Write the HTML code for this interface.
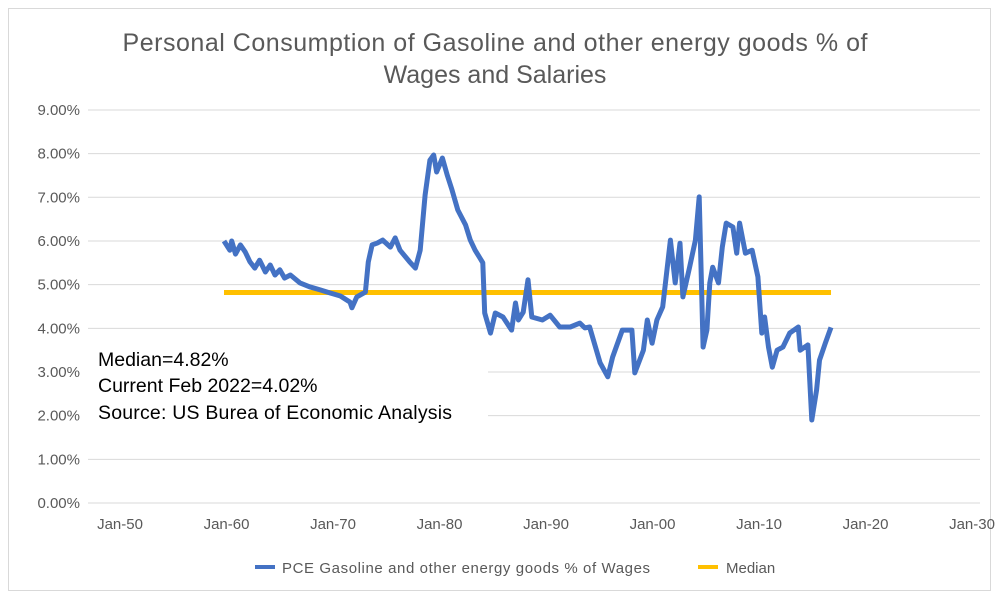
<!DOCTYPE html>
<html><head><meta charset="utf-8"><style>
body{margin:0;background:#fff;font-family:"Liberation Sans",Calibri,sans-serif}
svg text{font-family:"Liberation Sans",sans-serif}
</style></head><body>
<svg width="1000" height="602" xmlns="http://www.w3.org/2000/svg">
<rect x="8.5" y="8.5" width="982" height="582" fill="#fff" stroke="#d9d9d9"/>
<text x="495" y="51" text-anchor="middle" font-size="25" fill="#595959" textLength="745">Personal Consumption of Gasoline and other energy goods % of</text>
<text x="495" y="83" text-anchor="middle" font-size="25" fill="#595959">Wages and Salaries</text>
<g id="grid"></g><g id="ylabels"></g><g id="xlabels"></g><g id="series"></g>
<rect x="88" y="340" width="400" height="90" fill="#fff"/>
<text x="98" y="366" font-size="19.5" fill="#000">Median=4.82%</text>
<text x="98" y="392" font-size="19.5" fill="#000">Current Feb 2022=4.02%</text>
<text x="98" y="419" font-size="19.5" fill="#000" textLength="354">Source: US Burea of Economic Analysis</text>
<g>
<line x1="255" y1="567" x2="275" y2="567" stroke="#4472c4" stroke-width="4"/>
<text x="282" y="573" font-size="15" fill="#595959" textLength="368">PCE Gasoline and other energy goods % of Wages</text>
<line x1="698" y1="567" x2="718" y2="567" stroke="#ffc000" stroke-width="4"/>
<text x="726" y="573" font-size="15" fill="#595959">Median</text>
</g>
</svg>
<script>
const years=[1959.0,1959.6,1959.8,1960.2,1960.7,1961.2,1961.7,1962.2,1962.7,1963.3,1963.8,1964.3,1964.8,1965.3,1965.9,1966.9,1967.9,1969.0,1970.0,1971.1,1972.1,1972.3,1972.8,1973.7,1974.0,1974.4,1974.9,1975.5,1976.3,1976.8,1977.3,1978.3,1978.9,1979.4,1979.9,1980.4,1980.8,1981.1,1981.7,1982.2,1982.7,1983.3,1984.1,1984.6,1985.1,1985.6,1985.9,1986.1,1986.7,1987.2,1988.0,1988.9,1989.3,1989.6,1990.1,1990.6,1991.0,1992.1,1992.9,1993.9,1995.0,1996.0,1996.5,1997.0,1998.1,1998.9,1999.4,2000.4,2001.4,2001.7,2002.6,2003.0,2003.5,2004.0,2004.6,2005.4,2005.9,2006.4,2006.7,2007.4,2008.0,2008.4,2008.8,2009.2,2009.5,2009.8,2010.4,2010.8,2011.2,2011.9,2012.3,2012.6,2013.2,2013.9,2014.5,2014.9,2015.2,2015.6,2016.0,2016.5,2017.1,2017.8,2018.7,2018.9,2019.7,2020.1,2020.6,2020.9,2021.5,2022.1];
const values=[6.00,5.79,6.00,5.70,5.91,5.75,5.52,5.38,5.56,5.29,5.45,5.22,5.34,5.15,5.22,5.04,4.95,4.88,4.81,4.74,4.60,4.47,4.72,4.83,5.52,5.91,5.95,6.02,5.86,6.07,5.79,5.52,5.38,5.79,7.05,7.85,7.97,7.58,7.90,7.51,7.17,6.71,6.37,6.02,5.79,5.61,5.50,4.35,3.89,4.35,4.26,3.96,4.58,4.19,4.37,5.11,4.26,4.19,4.30,4.03,4.03,4.12,4.01,4.03,3.21,2.89,3.34,3.96,3.96,2.98,3.50,4.19,3.66,4.19,4.49,6.02,5.04,5.95,4.72,5.40,6.02,7.01,3.57,3.96,5.04,5.40,5.04,5.86,6.41,6.32,5.72,6.41,5.72,5.79,5.18,3.89,4.26,3.57,3.11,3.50,3.57,3.89,4.03,3.50,3.62,1.90,2.59,3.27,3.66,4.02];
const medianValue=4.82;
const yTicks=[0,1,2,3,4,5,6,7,8,9];
const xTickLabels=["Jan-50","Jan-60","Jan-70","Jan-80","Jan-90","Jan-00","Jan-10","Jan-20","Jan-30"];
const xTickIndex=[0,1,2,3,4,5,6,7,8];
const NS="http://www.w3.org/2000/svg";
const X=y=>224+(y-1959)*9.62;
const Y=v=>503-v*43.67;
const XL=i=>120+i*106.5;
function mk(t,a,p){const e=document.createElementNS(NS,t);for(const k in a)e.setAttribute(k,a[k]);p.appendChild(e);return e;}
const grid=document.getElementById('grid'),yl=document.getElementById('ylabels'),xl=document.getElementById('xlabels'),se=document.getElementById('series');
yTicks.forEach(v=>{
 const l=mk('line',{x1:88,x2:980,y1:Y(v),y2:Y(v),stroke:'#d9d9d9','stroke-width':1},grid);
 
 
 const t=mk('text',{x:80,y:Y(v)+5,'text-anchor':'end','font-size':15,fill:'#595959'},yl);
 t.textContent=v.toFixed(2)+'%';
 
 
});
xTickIndex.forEach((i,k)=>{
 const t=mk('text',{x:XL(i),y:529,'text-anchor':'middle','font-size':15,fill:'#595959'},xl);
 t.textContent=xTickLabels[k];
 
 
});
const med=mk('line',{x1:X(years[0]),x2:X(years[years.length-1]),y1:Y(medianValue),y2:Y(medianValue),stroke:'#ffc000','stroke-width':5},se);


const pl=mk('polyline',{points:years.map((y,i)=>X(y).toFixed(1)+','+Y(values[i]).toFixed(1)).join(' '),fill:'none',stroke:'#4472c4','stroke-width':5,'stroke-linejoin':'round'},se);


</script>
</body></html>
